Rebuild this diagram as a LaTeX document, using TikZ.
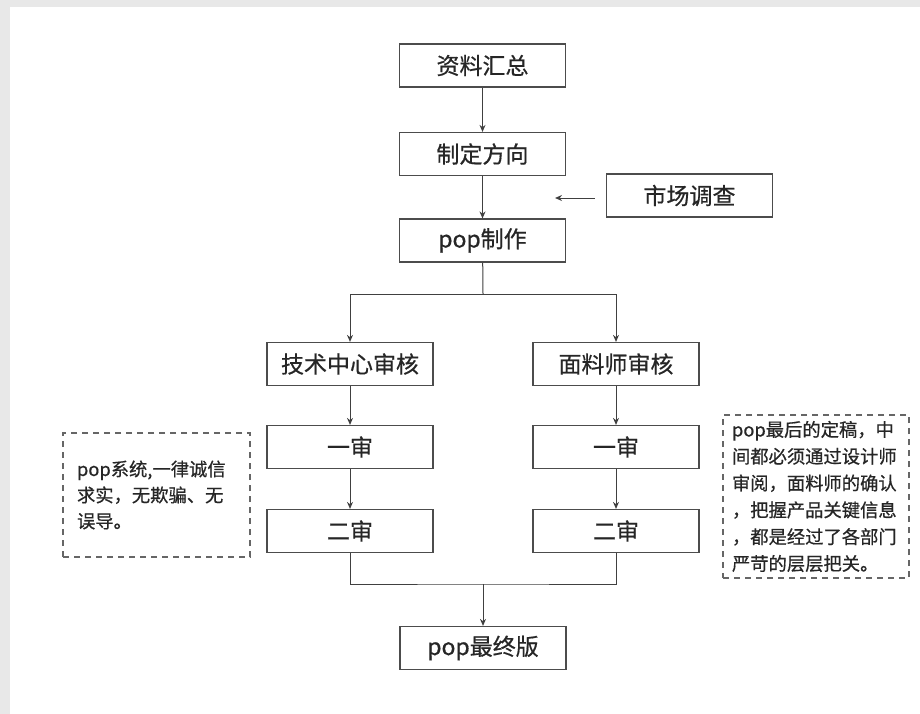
\documentclass[tikz,border=0pt]{standalone}
\usepackage{fontspec}
\usepackage{tikz}
\usepackage{xcolor}
\newfontfamily\cjk[FakeBold=0.6]{Noto Sans CJK SC}
\usetikzlibrary{positioning, arrows.meta}

\begin{document}
\begin{tikzpicture}[
  x=1pt, y=-1pt,
  >={Stealth[length=7pt, width=6pt]},
  every node/.style={font=\cjk, text=black!85},
  stepbox/.style={draw=black!70, line width=1.2pt, minimum width=166pt, minimum height=43pt, inner sep=0pt, font=\cjk\fontsize{23}{26}\selectfont},
  notebox/.style={draw=black!60, line width=1.1pt, dash pattern=on 6pt off 5pt, align=left, font=\cjk\fontsize{18.3}{26}\selectfont},
  link/.style={->, draw=black!75, line width=1pt}
]
\useasboundingbox (0,0) rectangle (920,714);
% page with a faint shadow
\fill[black!9] (0,0) rectangle (920,714);
\fill[white] (10,7) rectangle (920,714);

% main column
\node[stepbox] (collect) at (482.5, 65.5) {资料汇总};
\node[stepbox] (direction) at (482.5, 154) {制定方向};
\node[stepbox] (make) at (482.5, 240.5) {pop制作};
\node[stepbox] (market) at (689.5, 195.5) {市场调查};
\coordinate (marketin) at (555, 198);

% two review branches
\node[stepbox] (tech) at (350, 364) {技术中心审核};
\node[stepbox] (fabric) at (616, 364) {面料师审核};
\node[stepbox] (techA) at (350, 447) {一审};
\node[stepbox] (techB) at (350, 531) {二审};
\node[stepbox] (fabricA) at (616, 447) {一审};
\node[stepbox] (fabricB) at (616, 531) {二审};
\node[stepbox] (final) at (483, 648) {pop最终版};
\coordinate (split) at (483, 294);
\coordinate (join) at (483, 584);

% notes
\node[notebox, minimum width=187pt, minimum height=124pt, inner xsep=14pt, text width=159pt] (noteL) at (156.5, 495)
  {pop系统,一律诚信\\求实，无欺骗、无\\误导。};
\node[notebox, minimum width=186pt, minimum height=163pt, inner xsep=9pt, text width=168pt, font=\cjk\fontsize{18.3}{26.8}\selectfont] (noteR) at (816, 496.5)
  {pop最后的定稿，中\\间都必须通过设计师\\审阅，面料师的确认\\，把握产品关键信息\\，都是经过了各部门\\严苛的层层把关。};

% connectors
\draw[link] (collect) -- (direction);
\draw[link] (direction) -- (make);
\draw[link] (market.west |- marketin) ++(-11,0) -- (marketin);
\draw[draw=black!75, line width=1pt] (make) -- (split);
\draw[link] (split) -| (tech);
\draw[link] (split) -| (fabric);
\draw[link] (tech) -- (techA);
\draw[link] (techA) -- (techB);
\draw[link] (fabric) -- (fabricA);
\draw[link] (fabricA) -- (fabricB);
\draw[draw=black!75, line width=1pt] (techB) |- (join) -| (fabricB);
\draw[link] (join) -- (final);

\end{tikzpicture}
\end{document}
